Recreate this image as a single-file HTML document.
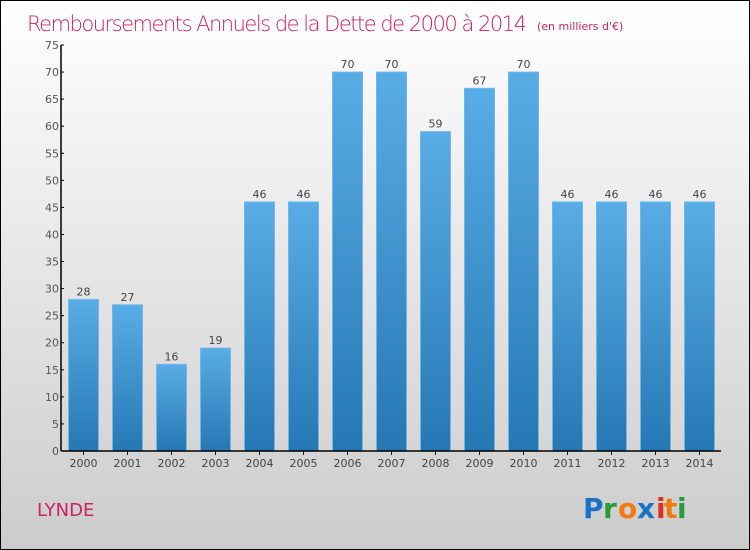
<!DOCTYPE html>
<html><head><meta charset="utf-8"><style>
body{margin:0}
#wrap{width:750px;height:550px;position:relative;box-sizing:border-box;border:1px solid #000;background:linear-gradient(#ffffff,#cccccc);font-family:"DejaVu Sans","Liberation Sans",sans-serif;overflow:hidden}
</style></head><body>
<div id="wrap">
<svg width="750" height="550" id="svg" style="position:absolute;left:0;top:0">
<defs><linearGradient id="bg" x1="0" y1="0" x2="0" y2="1"><stop offset="0" stop-color="#5aace6"/><stop offset="1" stop-color="#2677b3"/></linearGradient></defs>
<text x="26" y="30" font-size="21" fill="#c8245e" style="font-family:'DejaVu Sans',sans-serif;font-weight:200" textLength="500">Remboursements Annuels de la Dette de 2000 à 2014</text>
<text x="536" y="29" font-size="11" fill="#c8245e">(en milliers d'€)</text>
<text x="36" y="515" font-size="18" fill="#c8245e">LYNDE</text>
<g font-size="28" font-weight="bold" font-family="'DejaVu Sans',sans-serif">
<text x="582" y="517" fill="#1a73c8">P</text><text x="602" y="517" fill="#2a9a3a">r</text><text x="617" y="517" fill="#f07a10">o</text><text x="636" y="517" fill="#1a73c8">x</text><text x="655" y="517" fill="#e0301e">i</text><text x="663" y="517" fill="#f07a10">t</text><text x="676" y="517" fill="#2a9a3a">i</text>
</g>
<g id="yaxis"></g><g id="bars"></g><g id="xaxis"></g>
</svg>
</div>
<script>
const categories=["2000","2001","2002","2003","2004","2005","2006","2007","2008","2009","2010","2011","2012","2013","2014"];
const values=[28,27,16,19,46,46,70,70,59,67,70,46,46,46,46];
const yTicks=[0,5,10,15,20,25,30,35,40,45,50,55,60,65,70,75];
const NS="http://www.w3.org/2000/svg";
const y0=450,yTop=44,yMax=75,axX=60,x0=67.5,pitch=44,bw=30;
const yScale=v=>y0-(v/yMax)*(y0-yTop);
const xScale=i=>x0+i*pitch;
function mk(t,a,p){const e=document.createElementNS(NS,t);for(const k in a)e.setAttribute(k,a[k]);p.appendChild(e);return e;}
const ya=document.getElementById('yaxis'),ba=document.getElementById('bars'),xa=document.getElementById('xaxis');
let l=mk('line',{x1:axX,y1:yTop,x2:axX,y2:y0,stroke:'#000','stroke-width':1.5},ya);


yTicks.forEach(v=>{const y=yScale(v);
 mk('line',{x1:axX,y1:y,x2:axX+3,y2:y,stroke:'#000'},ya);
 const t=mk('text',{x:axX-2,y:y+4,'text-anchor':'end','font-size':11,fill:'#555'},ya);t.textContent=v;
 
 
});
let xl=mk('line',{x1:axX,y1:y0,x2:720,y2:y0,stroke:'#000','stroke-width':1.5},xa);


categories.forEach((c,i)=>{const x=xScale(i),v=values[i],y=yScale(v);
 const r=mk('rect',{x:x,y:y,width:bw,height:y0-y,fill:'url(#bg)',stroke:'#6bb8ee','stroke-width':1},ba);
 
 
 const vt=mk('text',{x:x+bw/2,y:y-4,'text-anchor':'middle','font-size':11,fill:'#444'},ba);vt.textContent=v;
 
 
 mk('line',{x1:x+bw/2,y1:y0,x2:x+bw/2,y2:y0+4,stroke:'#000'},xa);
 const t=mk('text',{x:x+bw/2,y:y0+16,'text-anchor':'middle','font-size':11,fill:'#444'},xa);t.textContent=c;
 
 
});
</script>
</body></html>
